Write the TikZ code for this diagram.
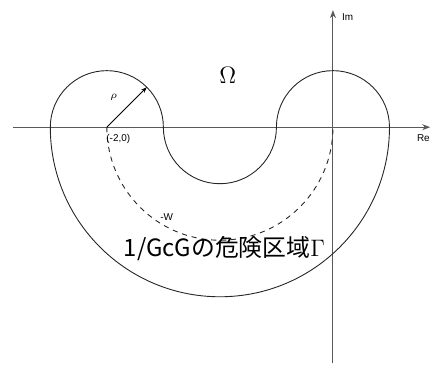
\documentclass[tikz,border=0pt]{standalone}
\usepackage{fontspec}
\setmainfont{Liberation Sans}
\newfontfamily\jpfont{Noto Sans CJK JP}
\usetikzlibrary{arrows.meta}

\begin{document}
\begin{tikzpicture}[>=Stealth, scale=1]

    \useasboundingbox (-5.89,-4.25) rectangle (1.77,2.25);

    % Punts
    \coordinate (O) at (0,0);
    \coordinate (P) at (-4,0);
    \coordinate (Q) at (-3.293,0.707);

    % Eixos
    \draw[
        ->,
        line width=0.55pt,
        black!65,
        >={Stealth[length=4pt,width=3pt]}
    ] (-5.66,0) -- (1.72,0);
    \draw[
        ->,
        line width=0.55pt,
        black!65,
        >={Stealth[length=4pt,width=3pt]}
    ] (0,-4.18) -- (0,2.07);

    \node (re) at (1.6,-0.2) {\tiny Re};
    \node (im) at (0.26,1.95) {\tiny Im};

    % Regio
    \draw[
        line width=0.45pt,
        black!85
    ] (-5,0) arc (180:0:1)
      arc (180:360:1)
      arc (180:0:1)
      arc (0:-180:3) -- cycle;

    % -W
    \draw[
        dashed,
        dash pattern=on 2.6pt off 2.4pt,
        line width=0.45pt,
        black!85
    ] (P) arc (180:360:2);
    \node (w) at (-2.94,-1.59) {\tiny -W};

    % Radi
    \draw[
        ->,
        line width=0.45pt,
        black,
        >={Stealth[length=3pt,width=2.2pt]}
    ] (P) -- (Q);
    \node (rho) at (-3.88,0.52) {\tiny $\rho$};
    \node[anchor=north west, inner sep=1pt] (pt) at (-4.05,-0.08) {\tiny (-2,0)};

    % Etiquetes
    \node (omega) at (-1.86,0.92) {\large $\Omega$};
    \node (gamma) at (-1.92,-2.14)
        {\jpfont\fontsize{12}{14}\selectfont 1/GcGの危険区域$\Gamma$};

\end{tikzpicture}
\end{document}
